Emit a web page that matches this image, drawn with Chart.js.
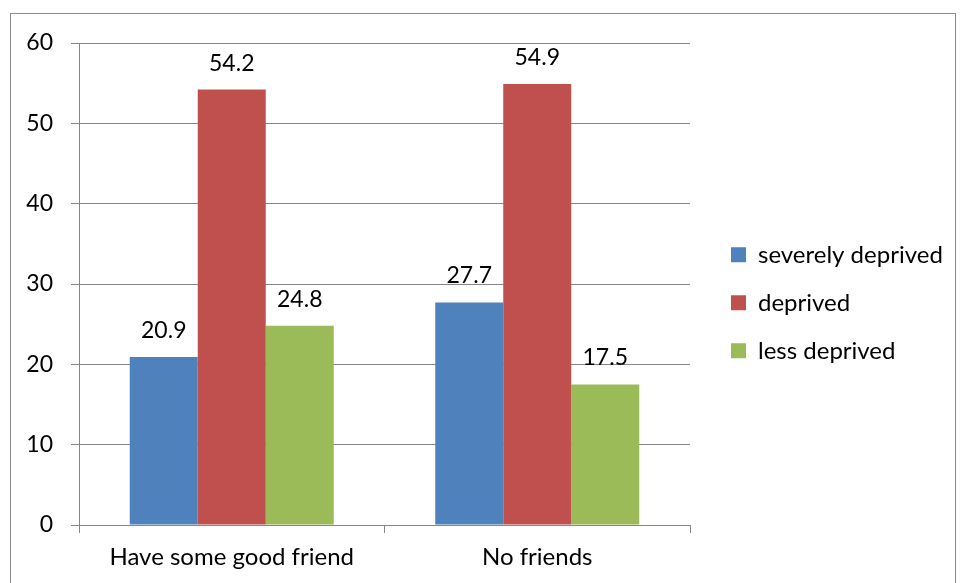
<!DOCTYPE html>
<html>
<head>
<meta charset="utf-8">
<script src="https://cdn.jsdelivr.net/npm/chart.js@4/dist/chart.umd.min.js"></script>
<style>
  html, body { margin: 0; padding: 0; background: #ffffff; overflow: hidden; }
  #wrap { position: relative; width: 960px; height: 583px; }
  #frame { position: absolute; left: 10px; top: 13px; width: 946px; height: 600px; border: 1px solid #8c8c8c; box-sizing: border-box; }
  canvas { position: absolute; left: 0; top: 0; }
</style>
</head>
<body>
<div id="wrap">
  <div id="frame"></div>
  <canvas id="c" width="960" height="583"></canvas>
</div>
<script>
const categories = ["Have some good friend", "No friends"];
const severelyDeprived = [20.9, 27.7];
const deprived = [54.2, 54.9];
const lessDeprived = [24.8, 17.5];
const yTicks = [0, 10, 20, 30, 40, 50, 60];

const FONT = 'Lato';
const NUM_FS = 23;
const TXT_FS = 24;
const GRID = '#868686';

const valueLabels = {
  id: 'valueLabels',
  afterDatasetsDraw(chart) {
    const ctx = chart.ctx;
    ctx.save();
    ctx.font = NUM_FS + 'px ' + FONT;
    ctx.fillStyle = '#000000';
    ctx.textAlign = 'center';
    ctx.textBaseline = 'alphabetic';
    chart.data.datasets.forEach((ds, i) => {
      const meta = chart.getDatasetMeta(i);
      meta.data.forEach((el, j) => {
        ctx.fillText(String(ds.data[j]), el.x, el.y - 19);
      });
    });
    ctx.restore();
  }
};

const legendLayout = {
  id: 'legendLayout',
  beforeInit(chart) {
    const lg = chart.legend;
    const f = lg.fit;
    lg.fit = function () { f.call(this); this.width = 270; };
  },
  afterLayout(chart) {
    const lg = chart.legend;
    lg.left = 707;
    lg.right = 960;
    lg.top = 43;
    lg.bottom = 562.6;
  }
};

new Chart(document.getElementById('c'), {
  type: 'bar',
  data: {
    labels: categories,
    datasets: [
      { label: 'severely deprived', data: severelyDeprived, backgroundColor: '#4F81BD', borderWidth: 0 },
      { label: 'deprived', data: deprived, backgroundColor: '#C0504D', borderWidth: 0 },
      { label: 'less deprived', data: lessDeprived, backgroundColor: '#9BBB59', borderWidth: 0 }
    ]
  },
  options: {
    responsive: false,
    animation: false,
    devicePixelRatio: 1,
    layout: { padding: { top: 43, left: 0, right: 0, bottom: 0 } },
    datasets: { bar: { categoryPercentage: 0.6678, barPercentage: 1.0 } },
    plugins: {
      legend: {
        position: 'right',
        align: 'center',
        labels: {
          boxWidth: 15,
          boxHeight: 15,
          padding: 24,
          color: '#000000',
          font: { family: FONT, size: TXT_FS }
        }
      },
      tooltip: { enabled: false }
    },
    scales: {
      x: {
        offset: true,
        grid: { display: true, drawOnChartArea: false, drawTicks: true, tickLength: 8, color: GRID, offset: true },
        border: { display: true, color: GRID, width: 1 },
        ticks: { color: '#000000', font: { family: FONT, size: TXT_FS }, padding: 10, maxRotation: 0 },
        afterFit(scale) { scale.height = 58; }
      },
      y: {
        min: 0,
        max: 60,
        afterBuildTicks(scale) { scale.ticks = yTicks.map(v => ({ value: v })); },
        grid: { color: GRID, drawTicks: true, tickLength: 8, lineWidth: 1 },
        border: { display: true, color: GRID, width: 1 },
        ticks: { color: '#000000', font: { family: FONT, size: NUM_FS }, padding: 18 },
        afterFit(scale) { scale.width = 79; }
      }
    }
  },
  plugins: [valueLabels, legendLayout]
});
</script>
</body>
</html>
